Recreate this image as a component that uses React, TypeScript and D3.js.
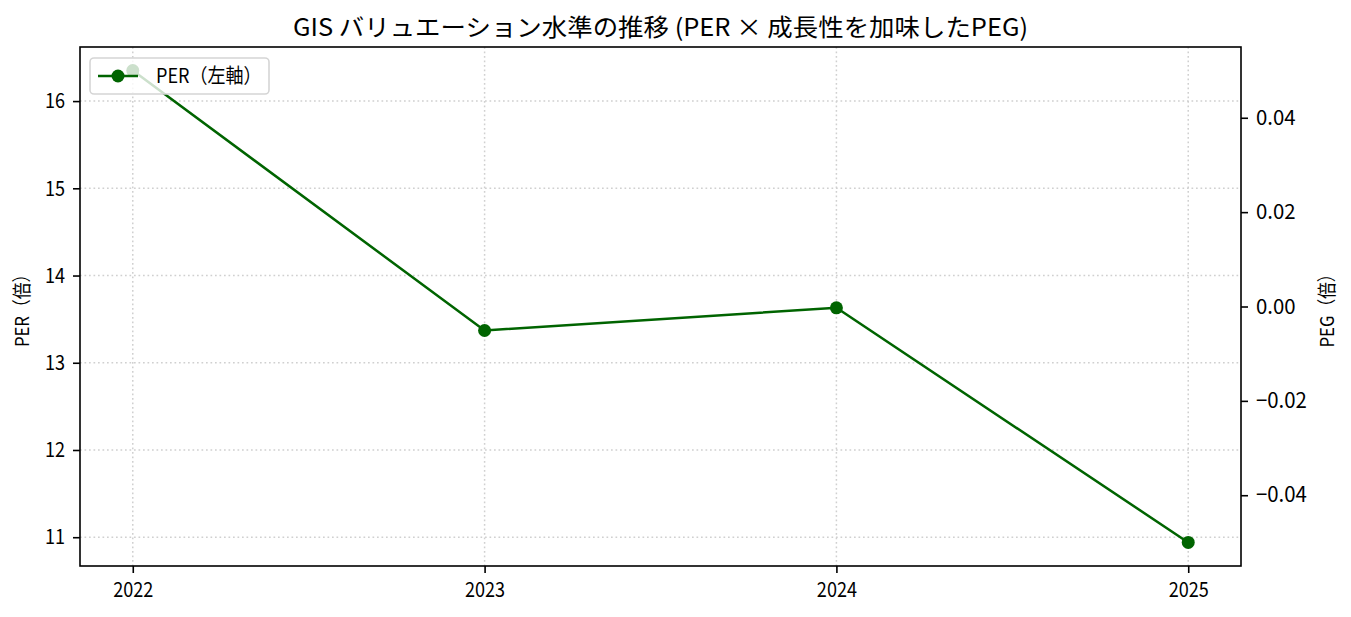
import React, { useEffect, useRef } from 'react'
import * as d3 from 'd3'

const years = [2022, 2023, 2024, 2025]
const perValues = [16.35, 13.37, 13.63, 10.94]
const perTicks = [11, 12, 13, 14, 15, 16]
const pegTicks = [-0.04, -0.02, 0, 0.02, 0.04]

const title = 'GIS バリュエーション水準の推移 (PER × 成長性を加味したPEG)'
const leftLabel = 'PER（倍）'
const rightLabel = 'PEG（倍）'
const legendLabel = 'PER（左軸）'

const FONT = "'Noto Sans CJK JP', 'Noto Sans', sans-serif"
const GREEN = '#006400'

// adjust glyph widths, the original used a narrow gothic font
function condense(sel: any, k: number) {
  sel.each(function (this: any) {
    const w = this.getComputedTextLength()
    d3.select(this).attr('textLength', w * k).attr('lengthAdjust', 'spacingAndGlyphs')
  })
}

function App() {
  const ref = useRef<SVGSVGElement>(null)

  useEffect(() => {
    const svg = d3.select(ref.current)
    svg.selectAll('*').remove()
    const W = 1351
    const H = 617
    const m = { left: 80, right: 1241, top: 47, bottom: 566 }

    const x = d3.scaleLinear().domain([2021.85, 2025.15]).range([m.left, m.right])
    const y = d3.scaleLinear().domain([10.67, 16.62]).range([m.bottom, m.top])
    const y2 = d3.scaleLinear().domain([-0.055, 0.055]).range([m.bottom, m.top])

    svg.attr('width', W).attr('height', H).style('font-family', FONT)
    svg.append('rect').attr('width', W).attr('height', H).attr('fill', '#fff')

    // grid
    const grid = svg.append('g').attr('stroke', '#d0d0d0').attr('stroke-width', 1.5).attr('stroke-dasharray', '1.7,2.8')
    years.forEach((yr) => {
      grid.append('line').attr('x1', x(yr)).attr('x2', x(yr)).attr('y1', m.top).attr('y2', m.bottom)
    })
    perTicks.forEach((t) => {
      grid.append('line').attr('x1', m.left).attr('x2', m.right).attr('y1', y(t)).attr('y2', y(t))
    })

    const axisStyle = (k: number) => (g: any) => {
      g.select('.domain').remove()
      g.selectAll('.tick line').attr('stroke', '#000').attr('stroke-width', 1.6)
      g.selectAll('.tick text').attr('font-family', FONT).attr('font-size', 21).attr('fill', '#000')
      condense(g.selectAll('.tick text'), k)
    }

    svg.append('g').attr('transform', `translate(0,${m.bottom})`)
      .call(d3.axisBottom(x).tickValues(years).tickFormat(d3.format('d')).tickSize(7).tickPadding(9))
      .call(axisStyle(0.86))
    svg.append('g').attr('transform', `translate(${m.left},0)`)
      .call(d3.axisLeft(y).tickValues(perTicks).tickFormat(d3.format('d')).tickSize(7).tickPadding(8))
      .call(axisStyle(0.86))
    svg.append('g').attr('transform', `translate(${m.right},0)`)
      .call(d3.axisRight(y2).tickValues(pegTicks).tickFormat((d: any) => d3.format('.2f')(d).replace('-', '−')).tickSize(7).tickPadding(8))
      .call(axisStyle(0.97))

    // frame
    svg.append('rect').attr('x', m.left).attr('y', m.top).attr('width', m.right - m.left).attr('height', m.bottom - m.top)
      .attr('fill', 'none').attr('stroke', '#000').attr('stroke-width', 1.6)

    // line
    const pts = years.map((yr, i) => [x(yr), y(perValues[i])] as [number, number])
    svg.append('path').attr('d', d3.line()(pts)).attr('fill', 'none').attr('stroke', GREEN).attr('stroke-width', 2.5)
    svg.append('g').selectAll('circle').data(pts).join('circle')
      .attr('cx', (d) => d[0]).attr('cy', (d) => d[1]).attr('r', 6.5).attr('fill', GREEN)

    // legend
    const lg = svg.append('g')
    lg.append('rect').attr('x', 90).attr('y', 58).attr('width', 179).attr('height', 36).attr('rx', 4)
      .attr('fill', '#fff').attr('fill-opacity', 0.8).attr('stroke', '#d5d5d5').attr('stroke-width', 1.6)
    lg.append('line').attr('x1', 98).attr('x2', 138).attr('y1', 76).attr('y2', 76).attr('stroke', GREEN).attr('stroke-width', 2.5)
    lg.append('circle').attr('cx', 118).attr('cy', 76).attr('r', 6.5).attr('fill', GREEN)
    const lt = lg.append('text').attr('x', 156).attr('y', 83).attr('font-size', 20).text(legendLabel)
    condense(lt, 0.9)

    // titles
    const tt = svg.append('text').attr('x', (m.left + m.right) / 2).attr('y', 36).attr('text-anchor', 'middle')
      .attr('font-size', 24).text(title)
    condense(tt, 1.06)
    const l1 = svg.append('text').attr('transform', `translate(29,${(m.top + m.bottom) / 2}) rotate(-90)`)
      .attr('text-anchor', 'middle').attr('font-size', 19).text(leftLabel)
    condense(l1, 0.88)
    const l2 = svg.append('text').attr('transform', `translate(1334,${(m.top + m.bottom) / 2}) rotate(-90)`)
      .attr('text-anchor', 'middle').attr('font-size', 19).text(rightLabel)
    condense(l2, 0.88)
  })

  return <svg ref={ref} style={{ position: 'absolute', left: 0, top: 0 }} />
}

export default App
